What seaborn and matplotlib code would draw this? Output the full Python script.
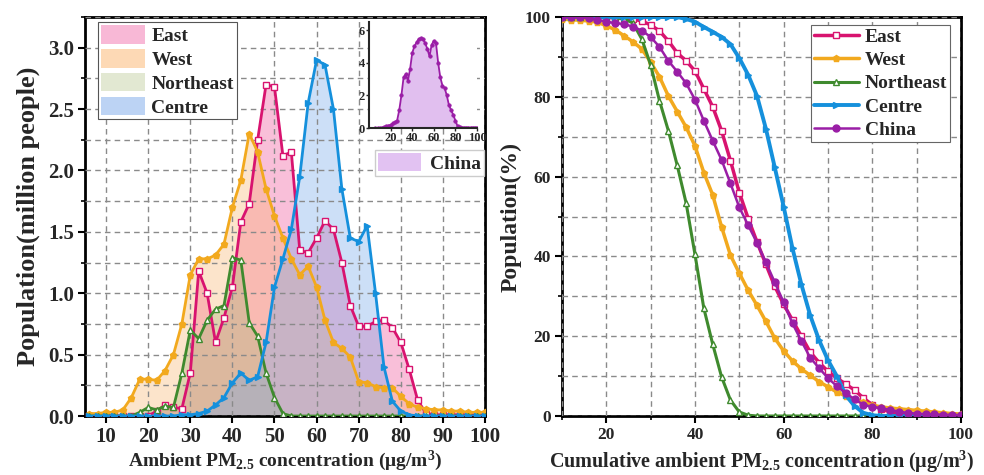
import numpy as np
import matplotlib
matplotlib.use('Agg')
import matplotlib.pyplot as plt
import seaborn as sns
from matplotlib.patches import Patch
from matplotlib.lines import Line2D
from matplotlib.ticker import MultipleLocator

# ---------------- data ----------------
# left panel: population (million people) per PM2.5 bin
conc = list(range(6, 101, 2))

east = [0, 0, 0, 0, 0, 0, 0, 0, 0.04, 0.09, 0.07, 0.06, 0.35, 1.18, 1.00, 0.60, 0.80,
        1.05, 1.58, 1.73, 2.25, 2.70, 2.68, 2.12, 2.15, 1.35, 1.33, 1.45, 1.59, 1.52, 1.25,
        0.90, 0.73, 0.73, 0.77, 0.78, 0.72, 0.60, 0.38, 0.13, 0.02, 0.01, 0.01, 0.01, 0.01,
        0.01, 0.01, 0.01]
west = [0.02, 0.02, 0.03, 0.03, 0.05, 0.15, 0.30, 0.30, 0.29, 0.37, 0.50, 0.75, 1.15, 1.28,
        1.28, 1.31, 1.40, 1.70, 1.92, 2.30, 2.15, 1.85, 1.63, 1.45, 1.28, 1.15, 1.22, 1.05,
        0.78, 0.60, 0.55, 0.48, 0.28, 0.27, 0.24, 0.23, 0.23, 0.16, 0.10, 0.07, 0.06, 0.05,
        0.05, 0.04, 0.04, 0.03, 0.03, 0.03]
northeast = [0, 0, 0, 0, 0, 0, 0.03, 0.07, 0.05, 0.08, 0.07, 0.35, 0.70, 0.63, 0.78, 0.87,
             0.90, 1.29, 1.27, 0.76, 0.65, 0.35, 0.15, 0.02, 0, 0, 0, 0, 0, 0, 0, 0, 0, 0,
             0, 0, 0, 0, 0, 0, 0, 0, 0, 0, 0, 0, 0, 0]
centre = [0, 0, 0, 0, 0, 0, 0, 0, 0, 0, 0, 0.01, 0.01, 0.02, 0.04, 0.09, 0.15, 0.27, 0.35,
          0.29, 0.32, 0.60, 1.05, 1.28, 1.52, 1.95, 2.55, 2.90, 2.86, 2.50, 1.85, 1.45, 1.42,
          1.55, 1.00, 0.40, 0.12, 0.04, 0.01, 0, 0, 0, 0, 0, 0, 0, 0, 0]
china = [0, 0, 0, 0.02, 0.05, 0.10, 0.15, 0.20, 0.28, 0.35, 0.45, 1.10, 2.00, 3.10, 3.30,
         2.90, 3.60, 4.60, 5.00, 5.25, 5.45, 5.50, 5.45, 5.20, 4.85, 4.40, 5.10, 5.35, 5.20,
         4.00, 3.10, 2.60, 2.45, 2.00, 1.40, 1.10, 0.80, 0.45, 0.10, 0.05, 0.03, 0.03, 0.03,
         0.03, 0.03, 0.03, 0.03, 0.03]

# right panel: cumulative population share (%) above concentration
cum_conc = list(range(10, 101, 2))

cum_east = [100, 100, 100, 100, 100, 99.9, 99.8, 99.7, 99.5, 99, 98, 96.5, 94, 91, 89, 86.5,
            82, 77.5, 71.5, 64, 56, 49.5, 43.6, 38, 32.5, 28, 24, 20, 16, 13.4, 11.2, 9.5,
            8, 6.5, 4.5, 2.8, 1.8, 1.0, 0.6, 0.4, 0.3, 0.2, 0.15, 0.1, 0.1, 0.05]
cum_west = [99.5, 99.3, 99.2, 99, 98.7, 97.8, 96.8, 95.3, 93.8, 92, 88.7, 85, 80.2, 76.3,
            72.4, 67.7, 61, 55.4, 47.4, 40.3, 35.8, 31.5, 27.7, 23.7, 19.5, 16.3, 13.8, 11.8,
            10.2, 8.6, 7.3, 6, 5, 4.2, 3.4, 2.7, 2.3, 2, 1.8, 1.6, 1.4, 1.2, 1.0, 0.8, 0.6, 0.5]
cum_northeast = [100, 100, 100, 100, 100, 100, 99.9, 99.5, 98.5, 94.5, 88, 79, 71.5, 62.8,
                 53.4, 40.5, 27, 18, 9.8, 4, 1, 0.2, 0, 0, 0, 0, 0, 0, 0, 0, 0, 0, 0, 0, 0,
                 0, 0, 0, 0, 0, 0, 0, 0, 0, 0, 0]
cum_centre = [100, 100, 100, 100, 100, 100, 100, 100, 100, 100, 100, 100, 100, 100, 99.5,
              98.8, 97.5, 96.3, 95, 93.2, 89.7, 85.5, 80.2, 72, 62.3, 52.5, 42, 33, 25.2, 19,
              14, 10, 5.2, 2.5, 0.8, 0.2, 0, 0, 0, 0, 0, 0, 0, 0, 0, 0]
cum_china = [100, 100, 99.9, 99.7, 99.3, 98.8, 98.5, 98.2, 97.6, 96.6, 95, 92.5, 89, 86.3,
             83.4, 79.3, 74, 69, 64.2, 58.3, 52.3, 47.8, 43.4, 38.5, 33.5, 28.5, 23.2, 18.8,
             14.6, 12, 9.5, 7.5, 5.7, 4.2, 2.8, 2.3, 2, 1.5, 1.1, 0.8, 0.6, 0.5, 0.4, 0.3,
             0.3, 0.2]

regions = ['East', 'West', 'Northeast', 'Centre']
line_colors = {'East': '#D8136F', 'West': '#F2A91E', 'Northeast': '#3F8A2E',
               'Centre': '#1590DC', 'China': '#9A1EA6'}
fill_colors = {'East': '#EE4A92', 'West': '#F9B26A', 'Northeast': '#A7B57A',
               'Centre': '#6FA6EA'}
legend_patch = {'East': '#F8B8D6', 'West': '#FDD9B5', 'Northeast': '#E2E8D2',
                'Centre': '#BCD3F4'}
markers = {'East': 's', 'West': 'p', 'Northeast': '^', 'Centre': '>', 'China': 'o'}
open_marker = {'East': True, 'West': False, 'Northeast': True, 'Centre': False, 'China': False}

sns.set_theme(style='white')
plt.rcParams['font.family'] = ['Liberation Serif', 'DejaVu Serif']
plt.rcParams['font.weight'] = 'bold'
plt.rcParams['mathtext.fontset'] = 'custom'
plt.rcParams['mathtext.rm'] = 'Liberation Serif:bold'
plt.rcParams['mathtext.it'] = 'Liberation Serif:bold'
plt.rcParams['mathtext.bf'] = 'Liberation Serif:bold'

fig = plt.figure(figsize=(9.84, 4.75), dpi=100)
ax1 = fig.add_axes([0.0864, 0.1242, 0.4065, 0.84])
ax2 = fig.add_axes([0.5711, 0.1242, 0.4055, 0.84])
axin = fig.add_axes([0.375, 0.7305, 0.1098, 0.2232])

leg_font = {'family': 'Liberation Serif', 'weight': 'bold', 'size': 14}


def style_axes(ax, size):
    for s in ax.spines.values():
        s.set_linewidth(2)
        s.set_color('black')
    ax.tick_params(axis='both', which='major', direction='out', length=5, width=1.5,
                   labelsize=size, bottom=True, left=True, top=False, right=False,
                   color='black', pad=3)
    ax.tick_params(axis='both', which='minor', direction='out', length=3, width=1.2,
                   bottom=True, left=True, top=False, right=False, color='black')
    ax.grid(True, which='both', linestyle=(0, (4, 3)), color='#8a8a8a', linewidth=1)
    ax.set_axisbelow(False)
    for lab in ax.get_xticklabels() + ax.get_yticklabels():
        lab.set_fontweight('bold')


# ---------------- left panel ----------------
left_data = {'East': east, 'West': west, 'Northeast': northeast, 'Centre': centre}
for r in regions:
    ax1.fill_between(conc, left_data[r], color=fill_colors[r], alpha=0.35, lw=0, zorder=1)
for r in regions:
    sns.lineplot(x=conc, y=left_data[r], ax=ax1, color=line_colors[r], lw=2,
                 marker=markers[r], markersize=5,
                 markerfacecolor='white' if open_marker[r] else line_colors[r],
                 markeredgecolor=line_colors[r], markeredgewidth=1, zorder=3)
ax1.set_xlim(5, 100)
ax1.set_ylim(0, 3.25)
ax1.xaxis.set_major_locator(MultipleLocator(10))
ax1.yaxis.set_minor_locator(MultipleLocator(0.25))
ax1.set_yticks(np.arange(0, 3.01, 0.5))
ax1.set_yticklabels([f'{v:.1f}' for v in np.arange(0, 3.01, 0.5)])
style_axes(ax1, 15)
ax1.set_xlabel('Ambient PM$_{2.5}$ concentration (μg/m$^3$)', fontsize=14,
               fontweight='bold', labelpad=1)
ax1.set_ylabel('Population(million people)', fontsize=19, fontweight='bold', labelpad=6)

h1 = [Patch(facecolor=legend_patch[r], edgecolor='none') for r in regions]
leg1 = ax1.legend(h1, regions, loc='upper left', bbox_to_anchor=(0.032, 0.987),
                  prop=leg_font, frameon=True, fancybox=False, edgecolor='#555555',
                  framealpha=1, borderpad=0.15, labelspacing=0.2, handlelength=2.3,
                  handleheight=1.1, handletextpad=0.3, borderaxespad=0)
leg1.get_frame().set_linewidth(0.8)

# China legend below the inset
hc = [Patch(facecolor='#E2C2F2', edgecolor='none')]
legc = ax1.legend(hc, ['China'], loc='upper left', bbox_to_anchor=(0.725, 0.667),
                  prop=leg_font, frameon=True, fancybox=False, edgecolor='#cccccc',
                  framealpha=1, borderpad=0.15, handlelength=2.2, handleheight=1.1,
                  handletextpad=0.5, borderaxespad=0)
ax1.add_artist(leg1)

# inset
axin.fill_between(conc, china, color='#C98BE3', alpha=0.55, lw=0)
sns.lineplot(x=conc, y=china, ax=axin, color=line_colors['China'], lw=1.3,
             marker='o', markersize=2.5, markeredgewidth=0.5,
             markeredgecolor=line_colors['China'])
axin.set_xlim(0, 100)
axin.set_ylim(0, 6.5)
axin.set_xticks([20, 40, 60, 80, 100])
axin.set_yticks([0, 2, 4, 6])
for s in axin.spines.values():
    s.set_visible(False)
axin.spines['left'].set_visible(True)
axin.spines['bottom'].set_visible(True)
axin.spines['left'].set_linewidth(1.5)
axin.spines['bottom'].set_linewidth(1.5)
axin.tick_params(labelsize=9, length=2, width=1, direction='out', pad=1,
                 bottom=True, left=True)
for lab in axin.get_xticklabels() + axin.get_yticklabels():
    lab.set_fontweight('bold')
axin.set_facecolor('white')
axin.grid(False)

# ---------------- right panel ----------------
right_data = {'East': cum_east, 'West': cum_west, 'Northeast': cum_northeast,
              'Centre': cum_centre, 'China': cum_china}
order = ['East', 'West', 'Northeast', 'Centre', 'China']
widths = {'East': 2.5, 'West': 2.5, 'Northeast': 2.2, 'Centre': 2.8, 'China': 1.8}
for r in order:
    sns.lineplot(x=cum_conc, y=right_data[r], ax=ax2, color=line_colors[r], lw=widths[r],
                 marker=markers[r], markersize=5,
                 markerfacecolor='white' if open_marker[r] else line_colors[r],
                 markeredgecolor=line_colors[r], markeredgewidth=1, zorder=3)
ax2.set_xlim(10, 100)
ax2.set_ylim(0, 100)
ax2.xaxis.set_major_locator(MultipleLocator(20))
ax2.xaxis.set_minor_locator(MultipleLocator(10))
ax2.yaxis.set_major_locator(MultipleLocator(20))
ax2.yaxis.set_minor_locator(MultipleLocator(10))
style_axes(ax2, 12.5)
ax2.set_xlabel('Cumulative ambient PM$_{2.5}$ concentration (μg/m$^3$)', fontsize=14.5,
               fontweight='bold', labelpad=4)
ax2.set_ylabel('Population(%)', fontsize=17, fontweight='bold', labelpad=2)

h2 = [Line2D([0], [0], color=line_colors[r], lw=widths[r], marker=markers[r], markersize=5,
             markerfacecolor='white' if open_marker[r] else line_colors[r],
             markeredgecolor=line_colors[r]) for r in order]
leg2 = ax2.legend(h2, order, loc='upper right', bbox_to_anchor=(0.972, 0.98),
                  prop=leg_font, frameon=True, fancybox=False, edgecolor='#666666',
                  framealpha=1, borderpad=0.15, labelspacing=0.3, handlelength=2.3,
                  handletextpad=0.3, borderaxespad=0)
leg2.get_frame().set_linewidth(0.8)

fig.savefig('out.png', dpi=100)
